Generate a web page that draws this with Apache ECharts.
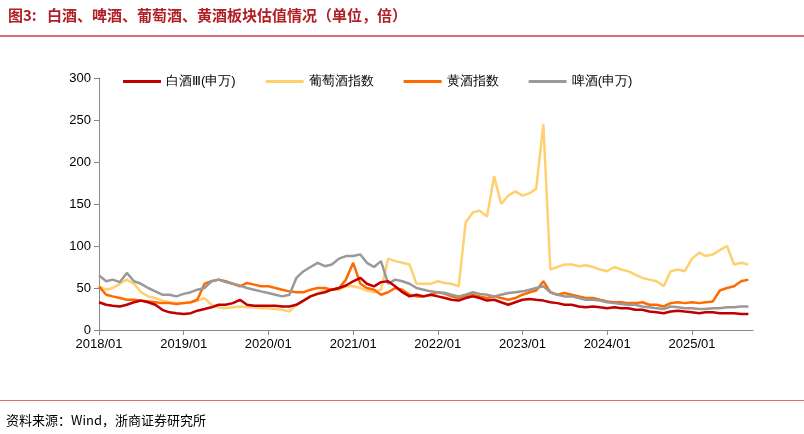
<!DOCTYPE html><html><head><meta charset="utf-8">
<script src="https://cdn.jsdelivr.net/npm/echarts@6/dist/echarts.min.js"></script>
<style>body{margin:0;background:#fff;font-family:"Noto Sans CJK SC"}#c{width:804px;height:434px}
.t{position:absolute;left:8px;top:4px;color:#b01f24;font-weight:bold;font-size:15px}
.l1{position:absolute;left:0;top:35px;width:804px;height:2px;background:#d87070}
.l2{position:absolute;left:0;top:400px;width:804px;height:1px;background:#d87070}
.s{position:absolute;left:6px;top:410px;font-size:13px;color:#000}</style></head><body>
<div id="c"></div><div class="t">图3:&nbsp;&nbsp;&nbsp;白酒、啤酒、葡萄酒、黄酒板块估值情况（单位，倍）</div><div class="l1"></div><div class="l2"></div>
<div class="s">资料来源：Wind，浙商证券研究所</div>
<script>
const names=['白酒Ⅲ(申万)','葡萄酒指数','黄酒指数','啤酒(申万)'];
const colors=['#c00000','#ffd070','#ff6a00','#999999'];
const baijiu=[33,30,29,28,30,33,35,33,30,24,21,20, 19,20,23,25,27,30,30,32,36,30,29,29, 29,29,28,28,30,35,40,43,45,48,50,53, 58,62,55,52,57,58,52,45,40,42,40,42, 40,38,36,35,38,40,38,35,36,33,30,33, 36,37,36,35,33,32,30,30,28,27,28,27, 26,27,26,26,24,24,22,21,20,22,23,22, 21,20,21,21,20,20,20,19,19];
const wine=[52,48,50,55,60,55,45,40,38,35,33,32, 32,33,35,38,30,27,26,27,28,27,27,26, 26,25,24,22,30,35,40,44,47,48,48,52, 52,50,47,45,48,85,82,80,78,55,55,55, 58,56,55,52,128,140,142,135,183,150,160,165, 160,163,168,245,72,75,78,78,76,77,75,72, 70,75,72,70,66,62,60,58,52,70,72,70, 85,92,88,90,95,100,78,80,78];
const huang=[52,42,40,38,36,36,35,34,33,32,32,31, 32,33,36,55,58,60,58,55,52,56,54,52, 52,50,48,46,45,45,48,50,50,48,50,60, 80,55,50,48,42,45,50,48,42,40,40,42, 45,43,40,38,40,42,40,38,40,38,36,38, 42,45,47,58,45,42,44,42,40,38,38,36, 34,33,33,32,32,33,30,30,28,32,33,32, 33,32,33,34,47,50,52,58,60];
const beer=[65,58,60,57,68,58,55,50,46,42,42,40, 43,45,48,50,58,60,57,55,53,50,48,46, 44,42,40,42,62,70,75,80,76,78,85,88, 88,90,80,75,82,55,60,58,55,50,48,46, 45,44,42,40,42,45,43,42,40,42,44,45, 46,48,50,52,45,42,40,40,38,36,36,35, 33,32,31,30,30,28,27,26,25,28,27,26, 26,25,25,26,26,27,27,28,28];
const dates=baijiu.map((_,i)=>new Date(2018+Math.floor(i/12),i%12,1).getTime());
const all=[baijiu,wine,huang,beer];
const ch=echarts.init(document.getElementById('c'));
ch.setOption({animation:false,
legend:{top:70,left:118,itemWidth:38,itemHeight:3,itemGap:30,icon:'rect',textStyle:{fontSize:13,color:'#000'},data:names},
grid:{left:99,right:51,top:78,bottom:104},
xAxis:{type:'time',min:dates[0],max:dates[dates.length-1]+20*86400000,interval:365.25*86400000,
 axisLine:{lineStyle:{color:'#888'}},axisTick:{show:true,lineStyle:{color:'#888'}},splitLine:{show:false},
 axisLabel:{color:'#000',fontSize:13,formatter:v=>new Date(v).getFullYear()+'/01'}},
yAxis:{type:'value',min:0,max:300,interval:50,axisLine:{show:true,lineStyle:{color:'#888'}},axisTick:{show:true,lineStyle:{color:'#888'}},splitLine:{show:false},axisLabel:{color:'#000',fontSize:13}},
series:all.map((d,k)=>({name:names[k],type:'line',symbol:'none',z:k==0?5:2,lineStyle:{width:2.5,color:colors[k]},itemStyle:{color:colors[k]},data:d.map((v,i)=>[dates[i],v])}))
});
</script></body></html>
